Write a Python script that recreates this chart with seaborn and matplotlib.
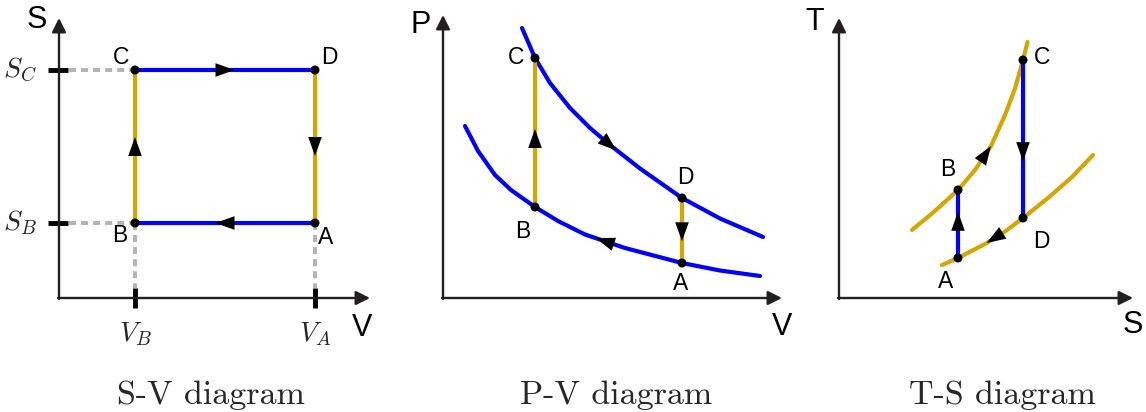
import numpy as np
import matplotlib
matplotlib.use('Agg')
import matplotlib.pyplot as plt
from matplotlib.patches import Polygon
import seaborn as sns

sns.set_theme(style='white')
plt.rcParams['font.family'] = ['Liberation Sans', 'DejaVu Sans']
plt.rcParams['mathtext.fontset'] = 'cm'

BLUE = '#0000ff'
GOLD = '#d4a600'
GREY = '#b3b3b3'
INK = '#231f20'

# drawing units: 1 unit = 10 px, origin at the corner of each diagram's axes
# S-V diagram
sv_v = [7.6, 25.6]      # V_B, V_A
sv_s = [7.5, 22.8]      # S_B, S_C

# P-V diagram (two adiabats)
pv_upper_v = [7.9, 9.2, 10.7, 12.7, 14.7, 16.7, 19.7, 23.9, 27.7, 32.0]
pv_upper_p = [27.0, 24.0, 21.5, 19.0, 17.0, 15.3, 12.95, 10.0, 7.95, 6.1]
pv_lower_v = [2.2, 3.5, 5.2, 6.8, 9.2, 11.5, 14.2, 18.2, 23.9, 27.7, 31.7]
pv_lower_p = [17.2, 14.7, 12.3, 10.8, 9.1, 7.7, 6.35, 5.0, 3.5, 2.75, 2.2]
pv_idx = {'A': ('lower', 8), 'B': ('lower', 4), 'C': ('upper', 1), 'D': ('upper', 7)}

# T-S diagram (two isochores)
ts_upper_s = [7.3, 9.3, 11.9, 13.6, 15.2, 16.6, 17.6, 18.4, 18.85]
ts_upper_t = [6.8, 8.45, 10.8, 12.8, 15.2, 18.3, 20.95, 23.8, 25.6]
ts_lower_s = [10.3, 11.9, 14.6, 16.6, 18.4, 20.9, 23.3, 25.4]
ts_lower_t = [3.3, 4.0, 5.4, 6.65, 8.0, 10.0, 12.1, 14.3]
ts_idx = {'A': ('lower', 1), 'B': ('upper', 2), 'C': ('upper', 7), 'D': ('lower', 4)}

W, H = 1146, 412


def make_axes(fig, x0, y0, xmax, ymax):
    # x0, y0: pixel position of the origin; 10 px per unit on both axes
    ax = fig.add_axes([x0 / W, (H - y0) / H, xmax * 10 / W, ymax * 10 / H])
    ax.set_xlim(0, xmax)
    ax.set_ylim(0, ymax)
    ax.axis('off')
    arrow = dict(arrowstyle='-|>,head_length=0.7,head_width=0.35', mutation_scale=12,
                 lw=1.7, color=INK, shrinkA=0, shrinkB=0)
    ax.annotate('', xy=(xmax, 0), xytext=(-0.1, 0), arrowprops=arrow, annotation_clip=False)
    ax.annotate('', xy=(0, ymax), xytext=(0, -0.1), arrowprops=arrow, annotation_clip=False)
    return ax


def line(ax, xs, ys, color, z=2):
    sns.lineplot(x=xs, y=ys, sort=False, estimator=None, color=color, lw=3, ax=ax,
                 zorder=z, clip_on=False)


def dots(ax, pts):
    sns.scatterplot(x=[p[0] for p in pts], y=[p[1] for p in pts], color='black', s=42,
                    edgecolor='none', ax=ax, zorder=6, clip_on=False)


def arrow_on(ax, xs, ys, frac, reverse=False, length=1.9, half=0.68):
    xs, ys = np.asarray(xs, float), np.asarray(ys, float)
    seg = np.hypot(np.diff(xs), np.diff(ys))
    cum = np.concatenate([[0], np.cumsum(seg)])
    d = frac * cum[-1]
    i = int(np.clip(np.searchsorted(cum, d) - 1, 0, len(seg) - 1))
    t = (d - cum[i]) / seg[i]
    cx = xs[i] + t * (xs[i + 1] - xs[i])
    cy = ys[i] + t * (ys[i + 1] - ys[i])
    ux, uy = (xs[i + 1] - xs[i]) / seg[i], (ys[i + 1] - ys[i]) / seg[i]
    if reverse:
        ux, uy = -ux, -uy
    tip = (cx + ux * length / 2, cy + uy * length / 2)
    bx, by = cx - ux * length / 2, cy - uy * length / 2
    tri = [tip, (bx - uy * half, by + ux * half), (bx + uy * half, by - ux * half)]
    ax.add_patch(Polygon(tri, closed=True, fc='black', ec='none', zorder=5, clip_on=False))


def label(ax, x, y, s, size=16.5):
    ax.text(x, y, s, fontsize=size, ha='center', va='center', color='black', clip_on=False)


fig = plt.figure(figsize=(W / 100, H / 100), dpi=100)

# ---------------- S-V diagram ----------------
ax1 = make_axes(fig, 59, 298, 31.1, 28.0)
vb, va = sv_v
sb, sc = sv_s
dash = dict(color=GREY, lw=2.8, ls=(0, (1.8, 1.3)), zorder=1, clip_on=False)
ax1.plot([1.0, vb], [sc, sc], **dash)
ax1.plot([1.0, vb], [sb, sb], **dash)
ax1.plot([vb, vb], [sb, 1.0], **dash)
ax1.plot([va, va], [sb, 1.0], **dash)
for v in sv_v:
    ax1.plot([v, v], [-1.0, 1.0], color='black', lw=3.5, solid_capstyle='butt', clip_on=False)
for s in sv_s:
    ax1.plot([-1.1, 0.9], [s, s], color='black', lw=3.5, solid_capstyle='butt', clip_on=False)
line(ax1, [vb, va], [sc, sc], BLUE)
line(ax1, [va, vb], [sb, sb], BLUE)
line(ax1, [vb, vb], [sb, sc], GOLD)
line(ax1, [va, va], [sc, sb], GOLD)
arrow_on(ax1, [vb, va], [sc, sc], 0.5)
arrow_on(ax1, [va, vb], [sb, sb], 0.5)
arrow_on(ax1, [vb, vb], [sb, sc], 0.5)
arrow_on(ax1, [va, va], [sc, sb], 0.5)
dots(ax1, [(vb, sb), (vb, sc), (va, sc), (va, sb)])
label(ax1, vb - 1.4, sc + 1.3, 'C')
label(ax1, va + 1.4, sc + 1.3, 'D')
label(ax1, vb - 1.5, sb - 1.3, 'B')
label(ax1, va + 1.1, sb - 1.4, 'A')
ax1.text(-2.2, sc, r'$S_C$', fontsize=20, ha='right', va='center', clip_on=False)
ax1.text(-2.2, sb, r'$S_B$', fontsize=20, ha='right', va='center', clip_on=False)
ax1.text(vb, -3.6, r'$V_B$', fontsize=20, ha='center', va='center', clip_on=False)
ax1.text(va, -3.6, r'$V_A$', fontsize=20, ha='center', va='center', clip_on=False)
label(ax1, -2.2, 27.8, 'S', 22)
label(ax1, 30.3, -3.0, 'V', 22)

# ---------------- P-V diagram ----------------
ax2 = make_axes(fig, 443, 298, 33.9, 28.3)
pv = {'upper': (pv_upper_v, pv_upper_p), 'lower': (pv_lower_v, pv_lower_p)}
pv_pt = {k: (pv[c][0][i], pv[c][1][i]) for k, (c, i) in pv_idx.items()}
line(ax2, pv_upper_v, pv_upper_p, BLUE)
line(ax2, pv_lower_v, pv_lower_p, BLUE)
line(ax2, [pv_pt['B'][0], pv_pt['C'][0]], [pv_pt['B'][1], pv_pt['C'][1]], GOLD)
line(ax2, [pv_pt['D'][0], pv_pt['A'][0]], [pv_pt['D'][1], pv_pt['A'][1]], GOLD)
arrow_on(ax2, pv_upper_v, pv_upper_p, 0.45)
arrow_on(ax2, pv_lower_v, pv_lower_p, 0.54, reverse=True)
arrow_on(ax2, [pv_pt['B'][0], pv_pt['C'][0]], [pv_pt['B'][1], pv_pt['C'][1]], 0.46)
arrow_on(ax2, [pv_pt['D'][0], pv_pt['A'][0]], [pv_pt['D'][1], pv_pt['A'][1]], 0.52)
dots(ax2, list(pv_pt.values()))
label(ax2, pv_pt['C'][0] - 1.9, pv_pt['C'][1], 'C')
label(ax2, pv_pt['D'][0] + 0.3, pv_pt['D'][1] + 2.0, 'D')
label(ax2, pv_pt['B'][0] - 1.2, pv_pt['B'][1] - 2.5, 'B')
label(ax2, pv_pt['A'][0] - 0.1, pv_pt['A'][1] - 2.0, 'A')
label(ax2, -2.2, 27.3, 'P', 22)
label(ax2, 33.9, -2.9, 'V', 22)

# ---------------- T-S diagram ----------------
ax3 = make_axes(fig, 839, 298, 29.4, 28.0)
ts = {'upper': (ts_upper_s, ts_upper_t), 'lower': (ts_lower_s, ts_lower_t)}
ts_pt = {k: (ts[c][0][i], ts[c][1][i]) for k, (c, i) in ts_idx.items()}
line(ax3, ts_upper_s, ts_upper_t, GOLD)
line(ax3, ts_lower_s, ts_lower_t, GOLD)
line(ax3, [ts_pt['A'][0], ts_pt['B'][0]], [ts_pt['A'][1], ts_pt['B'][1]], BLUE)
line(ax3, [ts_pt['C'][0], ts_pt['D'][0]], [ts_pt['C'][1], ts_pt['D'][1]], BLUE)
arrow_on(ax3, ts_upper_s, ts_upper_t, 0.47)
arrow_on(ax3, ts_lower_s, ts_lower_t, 0.315, reverse=True)
arrow_on(ax3, [ts_pt['A'][0], ts_pt['B'][0]], [ts_pt['A'][1], ts_pt['B'][1]], 0.54)
arrow_on(ax3, [ts_pt['C'][0], ts_pt['D'][0]], [ts_pt['C'][1], ts_pt['D'][1]], 0.58)
dots(ax3, list(ts_pt.values()))
label(ax3, ts_pt['C'][0] + 1.9, ts_pt['C'][1] + 0.3, 'C')
label(ax3, ts_pt['B'][0] - 1.0, ts_pt['B'][1] + 2.0, 'B')
label(ax3, ts_pt['D'][0] + 1.8, ts_pt['D'][1] - 2.3, 'D')
label(ax3, ts_pt['A'][0] - 1.2, ts_pt['A'][1] - 2.4, 'A')
label(ax3, -2.4, 27.6, 'T', 22)
label(ax3, 29.4, -2.7, 'S', 22)

# titles
for xc, title in [(211, 'S-V diagram'), (616, 'P-V diagram'), (1002, 'T-S diagram')]:
    fig.text(xc / W, 1 - 395 / H, title, fontsize=24.5, family='cmr10', ha='center', va='center')

fig.savefig('out.png', dpi=100)
